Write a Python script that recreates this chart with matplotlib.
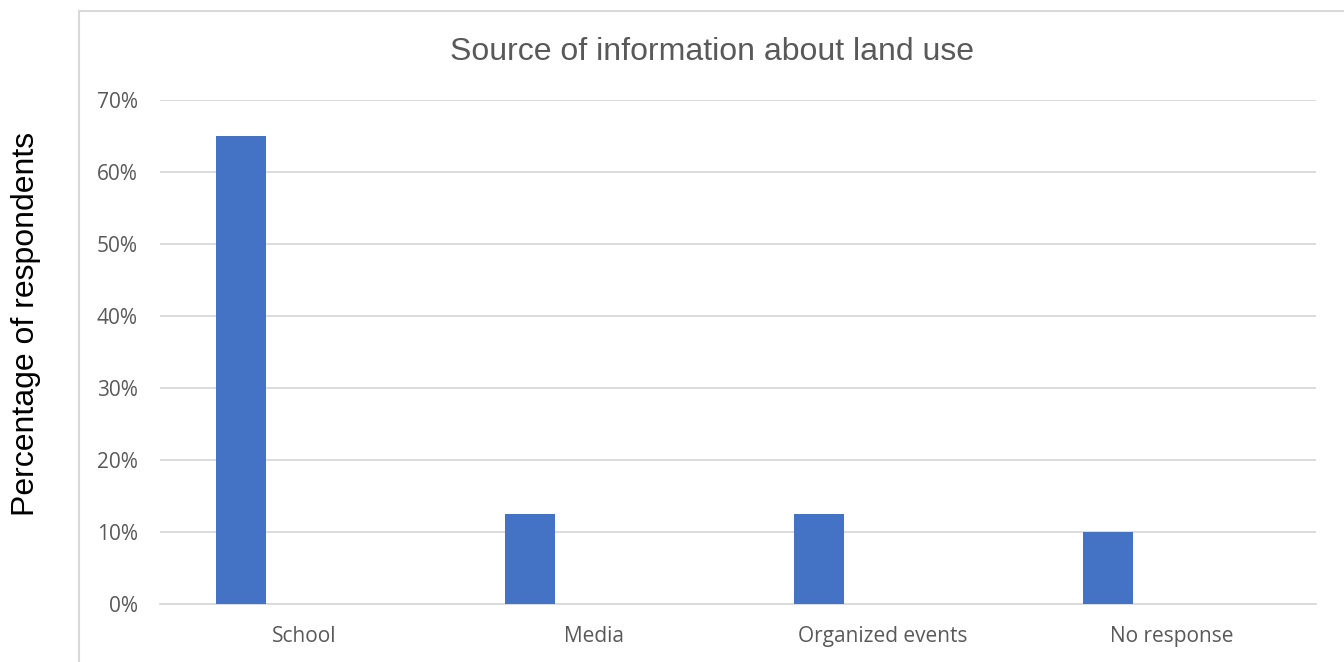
import matplotlib.pyplot as plt
from matplotlib.lines import Line2D
from matplotlib.ticker import FuncFormatter

categories = ["School", "Media", "Organized events", "No response"]
shares = [0.65, 0.125, 0.125, 0.10]
y_ticks = [0.0, 0.1, 0.2, 0.3, 0.4, 0.5, 0.6, 0.7]

BAR_COLOR = "#4472c4"
GRID_COLOR = "#d9d9d9"
TEXT_COLOR = "#595959"

fig = plt.figure(figsize=(13.44, 6.62), dpi=100)
ax = fig.add_axes([160 / 1344, 58 / 662, 1156 / 1344, 504 / 662])

# bars sit left of the category centre, as in the original clustered chart
x = list(range(len(categories)))
ax.bar([i - 0.22 for i in x], shares, width=0.173, color=BAR_COLOR, zorder=3)

ax.set_xlim(-0.5, len(categories) - 0.5)
ax.set_ylim(0, 0.7)
ax.set_yticks(y_ticks)
ax.yaxis.set_major_formatter(FuncFormatter(lambda v, _: f"{v * 100:.0f}%"))
ax.set_xticks(x)
ax.set_xticklabels(categories)

ax.grid(axis="y", color=GRID_COLOR, linewidth=1.3, zorder=0)
for side in ["top", "right", "left"]:
    ax.spines[side].set_visible(False)
ax.spines["bottom"].set_color(GRID_COLOR)
ax.spines["bottom"].set_linewidth(1.3)
ax.tick_params(length=0, labelcolor=TEXT_COLOR, labelsize=15)
ax.tick_params(axis="y", pad=16)
ax.tick_params(axis="x", pad=16)
for lbl in ax.get_xticklabels() + ax.get_yticklabels():
    lbl.set_family("Open Sans")

# title is centred on the whole chart area, not the plot area
fig.text(712 / 1344, 1 - 52 / 662, "Source of information about land use", ha="center",
         va="center", fontsize=23, color=TEXT_COLOR, family="Liberation Sans")

fig.text(26 / 1344, 1 - 324 / 662, "Percentage of respondents", rotation=90, ha="center",
         va="center", fontsize=23, family="Liberation Sans", color="black")

# chart-area border (only left and top edges fall inside the image)
bx, by = 79 / 1344, 1 - 11 / 662
fig.add_artist(Line2D([bx, bx], [0, by], transform=fig.transFigure, color=GRID_COLOR, lw=1.5))
fig.add_artist(Line2D([bx, 1], [by, by], transform=fig.transFigure, color=GRID_COLOR, lw=1.5))

fig.savefig("out.png", dpi=100)
